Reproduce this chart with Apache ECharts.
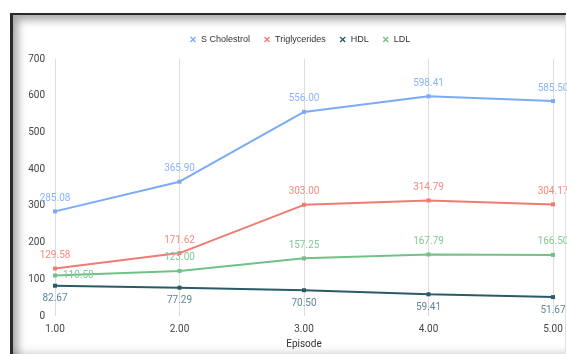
<!DOCTYPE html>
<html><head><meta charset="utf-8">
<script src="https://cdn.jsdelivr.net/npm/echarts@6/dist/echarts.min.js"></script>
<style>
html,body{margin:0;padding:0;background:#fff;overflow:hidden;}
#c{position:absolute;left:0;top:0;width:567px;height:354px;}
#frame{position:absolute;left:10px;top:13px;width:553px;height:345px;border-top:2px solid #2a2a2a;border-left:3px solid #2a2a2a;
box-shadow:inset 7px 7px 9px -2px rgba(0,0,0,0.35), inset 0 -14px 10px -8px rgba(0,0,0,0.25);pointer-events:none;}
#rline{position:absolute;left:565px;top:15px;width:1px;height:339px;background:#e2e2e2;pointer-events:none;}
</style></head>
<body>
<div id="c"></div>
<div id="frame"></div>
<div id="rline"></div>
<script>
const episodes = [1, 2, 3, 4, 5];
const sCholestrol = [285.08, 365.90, 556.00, 598.41, 585.50];
const triglycerides = [129.58, 171.62, 303.00, 314.79, 304.17];
const hdl = [82.67, 77.29, 70.50, 59.41, 51.67];
const ldl = [110.58, 123.00, 157.25, 167.79, 166.50];
const seriesNames = ['S Cholestrol', 'Triglycerides', 'HDL', 'LDL'];

const crossPath = 'path://M0,1.5L1.5,0L5,3.5L8.5,0L10,1.5L6.5,5L10,8.5L8.5,10L5,6.5L1.5,10L0,8.5L3.5,5Z';
const lineColors = ['#7baaf7', '#f07b72', '#2b5b66', '#71c287'];
const labelColors = ['#8ab4f8', '#f28b82', '#5d8795', '#81c995'];

function pairs(vals){ return episodes.map((e,i)=>[e, vals[i]]); }

function mk(name, vals, idx, pos, firstPos){
  return {
    name: name, type: 'line', data: pairs(vals).map((p,i)=>{
      const d = {value: p};
      if (i===0 && firstPos) d.label = {position: firstPos};
      return d;
    }),
    symbol: 'rect', symbolSize: 4,
    lineStyle: {color: lineColors[idx], width: 2},
    itemStyle: {color: lineColors[idx]},
    label: {show: true, position: pos, distance: 6, color: labelColors[idx], fontSize: 10,
      fontFamily: 'Roboto', formatter: p => p.value[1].toFixed(2)},
    emphasis: {disabled: true}, animation: false
  };
}

const chart = echarts.init(document.getElementById('c'), null, {renderer: 'canvas'});
chart.setOption({
  animation: false,
  color: lineColors,
  legend: {
    top: 30, left: 185, itemWidth: 6, itemHeight: 6, itemGap: 14, icon: crossPath,
    textStyle: {fontSize: 9, color: '#333', fontFamily: 'Liberation Sans'},
    data: seriesNames
  },
  grid: {left: 55, right: 14, top: 59, bottom: 36},
  xAxis: {
    type: 'value', min: 1, max: 5, interval: 1,
    name: 'Episode', nameLocation: 'middle', nameGap: 20,
    nameTextStyle: {fontSize: 10, color: '#333', fontFamily: 'Roboto'},
    axisLine: {show: false}, axisTick: {show: false},
    axisLabel: {fontSize: 10, color: '#444', fontFamily: 'Roboto', margin: 8, formatter: v => v.toFixed(2)},
    splitLine: {show: true, lineStyle: {color: '#ddd', width: 1}}
  },
  yAxis: {
    type: 'value', min: 0, max: 700, interval: 100,
    axisLine: {show: false}, axisTick: {show: false},
    axisLabel: {fontSize: 10, color: '#444', fontFamily: 'Roboto', margin: 10},
    splitLine: {show: false}
  },
  series: [
    mk(seriesNames[0], sCholestrol, 0, 'top'),
    mk(seriesNames[1], triglycerides, 1, 'top'),
    mk(seriesNames[2], hdl, 2, 'bottom'),
    mk(seriesNames[3], ldl, 3, 'top', 'right')
  ]
});
</script>
</body></html>
